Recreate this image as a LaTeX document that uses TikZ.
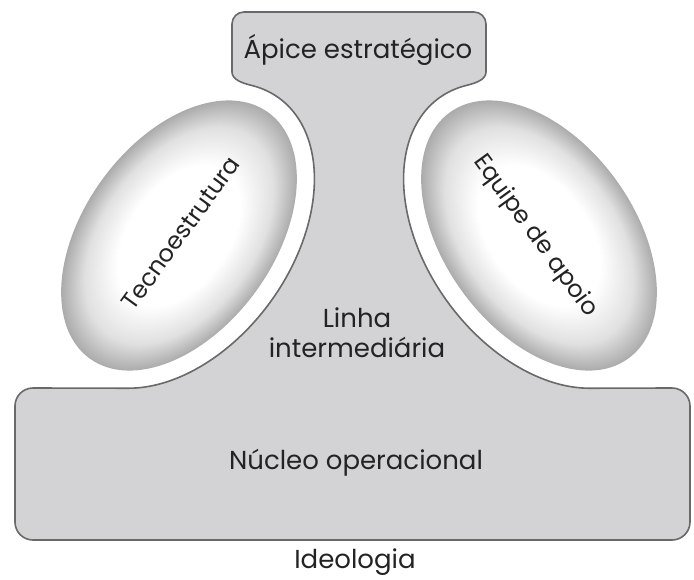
\documentclass[tikz,border=0pt]{standalone}
\usepackage{fontspec}
\setmainfont{Poppins}
\usepackage{tikz}
\usepackage{xcolor}
\usetikzlibrary{calc}
\definecolor{partgray}{RGB}{211,211,213}
\definecolor{edgegray}{RGB}{105,105,105}
\definecolor{inkgray}{RGB}{35,35,35}
\pgfdeclareradialshading{lensshade}{\pgfpoint{0bp}{0bp}}{color(0bp)=(white); color(13bp)=(white); color(20bp)=(black!12); color(25bp)=(black!33); color(50bp)=(black!33)}

\begin{document}
\begin{tikzpicture}[x=1pt, y=-1pt,
  label/.style={text=inkgray, font=\fontsize{26}{30}\selectfont, inner sep=0pt, align=center},
  slanted/.style={label, font=\fontsize{24}{28}\selectfont}]
\useasboundingbox (0,0) rectangle (694,579);

% Outline of the organisation
\path[fill=partgray, draw=edgegray, line width=1.6pt, line join=round]
  (232,72) -- (232,24) arc[start angle=180, end angle=270, radius=12]
  -- (474,12) arc[start angle=270, end angle=360, radius=12] -- (486,72)
  .. controls (486,80) and (474.9,83.3) .. (466.14,85.47)
  -- plot[domain=-15:154.22, samples=90, variable=\t] ({539-99.93*cos(\t)-91.42*sin(\t)}, {235.5-137.53*cos(\t)+66.42*sin(\t)})
  -- (672,388) arc[start angle=270, end angle=360, radius=18]
  -- (690,522) arc[start angle=0, end angle=90, radius=18]
  -- (33,540) arc[start angle=90, end angle=180, radius=18]
  -- (15,406) arc[start angle=180, end angle=270, radius=18]
  -- plot[domain=154.22:-15, samples=90, variable=\t] ({179+99.93*cos(\t)+91.42*sin(\t)}, {235.5-137.53*cos(\t)+66.42*sin(\t)})
  .. controls (243.1,83.3) and (232,80) .. (232,72) -- cycle;

% Side parts
\begin{scope}[transform canvas={shift={(179,235.5)}, rotate=54}]
  \shade[shading=lensshade] (0,0) ellipse[x radius=152, y radius=95];
\end{scope}
\begin{scope}[transform canvas={shift={(539,235.5)}, rotate=-54}]
  \shade[shading=lensshade] (0,0) ellipse[x radius=152, y radius=95];
\end{scope}

% Labels
\node[label] (apex) at (358,50) {Ápice estratégico};
\node[slanted, rotate=54] (techno) at (181,233) {Tecnoestrutura};
\node[slanted, rotate=-54] (support) at (535,236) {Equipe de apoio};
\node[label] (middle) at (357,333) {Linha\\intermediária};
\node[label] (core) at (356,463) {Núcleo operacional};
\node[label] (ideology) at (355,562) {Ideologia};
\end{tikzpicture}
\end{document}
